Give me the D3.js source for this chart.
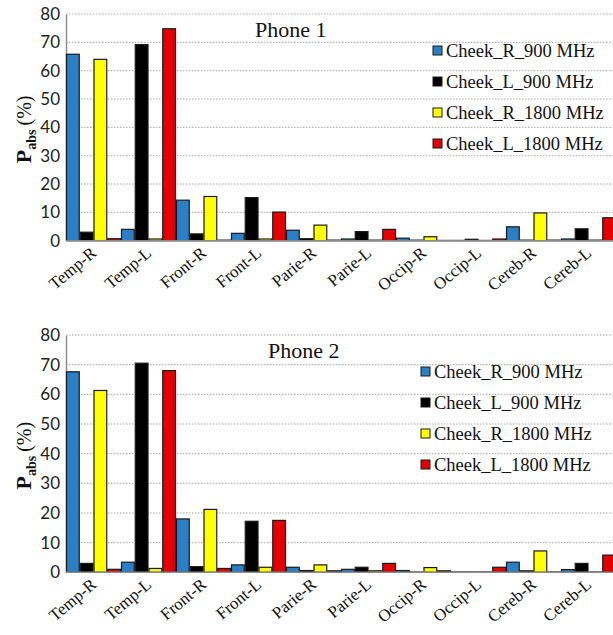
<!DOCTYPE html>
<html><head><meta charset="utf-8">
<script src="https://cdn.jsdelivr.net/npm/d3@7/dist/d3.min.js"></script>
<style>body{margin:0;background:#fff}svg{display:block}
.serif{font-family:"Liberation Serif","DejaVu Serif",Tinos,serif}
.sans{font-family:Lato,"Liberation Sans",sans-serif}
</style>
</head><body>
<svg id="chart" width="613" height="635"></svg>
<script>
const categories = ["Temp-R","Temp-L","Front-R","Front-L","Parie-R","Parie-L","Occip-R","Occip-L","Cereb-R","Cereb-L"];
const seriesNames = ["Cheek_R_900 MHz","Cheek_L_900 MHz","Cheek_R_1800 MHz","Cheek_L_1800 MHz"];
const seriesColors = ["#2a7fc6","#000000","#ffff00","#e30000"];
const yTicks = [0,10,20,30,40,50,60,70,80];

// Phone 1
const phone1_R900  = [65.8, 4.0, 14.3, 2.6, 3.7, 0.6, 0.9, 0.1, 4.9, 0.6];
const phone1_L900  = [3.0, 69.2, 2.4, 15.2, 0.7, 3.2, 0.2, 0.5, 0.2, 4.2];
const phone1_R1800 = [64.0, 0.6, 15.6, 0.6, 5.5, 0.2, 1.4, 0.1, 9.8, 0.2];
const phone1_L1800 = [0.7, 74.8, 0.2, 10.1, 0.2, 4.0, 0.1, 0.6, 0.2, 8.1];
// Phone 2
const phone2_R900  = [67.6, 3.4, 18.0, 2.5, 1.7, 1.0, 0.6, 0.1, 3.4, 0.9];
const phone2_L900  = [3.0, 70.5, 1.9, 17.2, 0.6, 1.7, 0.1, 0.1, 0.5, 3.0];
const phone2_R1800 = [61.3, 1.3, 21.2, 1.7, 2.5, 0.5, 1.6, 0.1, 7.2, 0.1];
const phone2_L1800 = [1.0, 68.0, 1.3, 17.5, 0.5, 3.0, 0.5, 1.7, 0.1, 5.8];

const svg = d3.select("#chart");

function drawPanel(cfg){
  const {top, bottom, title, titleX, titleY, legendX, legendY, legendStep, data} = cfg;
  const left = 66, right = 616;
  const g = svg.append("g");
  const y = d3.scaleLinear().domain([0,80]).range([bottom, top]);
  const x0 = d3.scaleBand().domain(categories).range([left, right]).padding(0);
  const x1 = d3.scaleBand().domain(d3.range(4)).range([0, x0.bandwidth()]).padding(0);

  g.selectAll(".grid").data(yTicks.filter(d=>d>0)).join("line")
    .attr("x1", left).attr("x2", 613)
    .attr("y1", d=>y(d)).attr("y2", d=>y(d))
    .attr("stroke", "#a8a8a8").attr("stroke-width", 1).attr("stroke-dasharray","1.5,1.5");

  const ya = g.append("g").attr("transform", `translate(${left},0)`)
    .call(d3.axisLeft(y).tickValues(yTicks).tickSize(0).tickPadding(6));
  ya.attr("font-family", null).attr("font-size", null);
  ya.select(".domain").attr("stroke","#8c8c8c").attr("stroke-width",1.5);
  ya.selectAll("text").attr("class","sans").style("font-size","17px").attr("fill","#222");

  data.forEach((vals,i)=>{
    g.selectAll(null).data(vals.map((v,k)=>({c:categories[k], v}))).join("rect")
      .attr("x", d=>x0(d.c)+x1(i)+0.5)
      .attr("width", x1.bandwidth()-1)
      .attr("y", d=>y(d.v))
      .attr("height", d=>Math.max(0, y(0)-y(d.v)))
      .attr("fill", seriesColors[i])
      .attr("stroke", "#1a1a1a").attr("stroke-width", 1.2);
  });

  g.append("line").attr("x1", left).attr("x2", 613).attr("y1", y(0)).attr("y2", y(0))
    .attr("stroke","#8c8c8c").attr("stroke-width",1.5);

  g.selectAll(".xl").data(categories).join("text")
    .attr("class","serif")
    .attr("transform", d=>`translate(${x0(d)+x0.bandwidth()/2+4},${y(0)+14}) rotate(-40)`)
    .attr("text-anchor","end")
    .style("font-size","17px").attr("fill","#111")
    .text(d=>d);

  g.append("text").attr("class","serif").attr("x", titleX).attr("y", titleY)
    .style("font-size","22px").attr("fill","#111").text(title);

  seriesNames.forEach((n,i)=>{
    const ly = legendY + i*legendStep;
    g.append("rect").attr("x", legendX).attr("y", ly-5).attr("width", 9).attr("height", 9)
      .attr("fill", seriesColors[i]).attr("stroke","#1a1a1a").attr("stroke-width",1);
    g.append("text").attr("class","serif").attr("x", legendX+13).attr("y", ly+6)
      .style("font-size","18.5px").attr("fill","#111").text(n);
  });

  const cy = (top+bottom)/2 + 2;
  const yl = g.append("text").attr("class","serif")
    .attr("transform", `translate(31,${cy}) rotate(-90)`)
    .attr("text-anchor","middle").attr("fill","#111");
  yl.append("tspan").style("font-size","22px").attr("font-weight","bold").text("P");
  yl.append("tspan").style("font-size","14px").attr("font-weight","bold").attr("dy", 5).text("abs");
  yl.append("tspan").style("font-size","20px").attr("dy", -5).text("\u2009(%)");
}

drawPanel({top:14, bottom:240.7, title:"Phone 1", titleX:255, titleY:37,
  legendX:433, legendY:51, legendStep:31,
  data:[phone1_R900, phone1_L900, phone1_R1800, phone1_L1800]});
drawPanel({top:335, bottom:572.3, title:"Phone 2", titleX:268, titleY:358,
  legendX:421, legendY:372, legendStep:31,
  data:[phone2_R900, phone2_L900, phone2_R1800, phone2_L1800]});
</script>
</body></html>
